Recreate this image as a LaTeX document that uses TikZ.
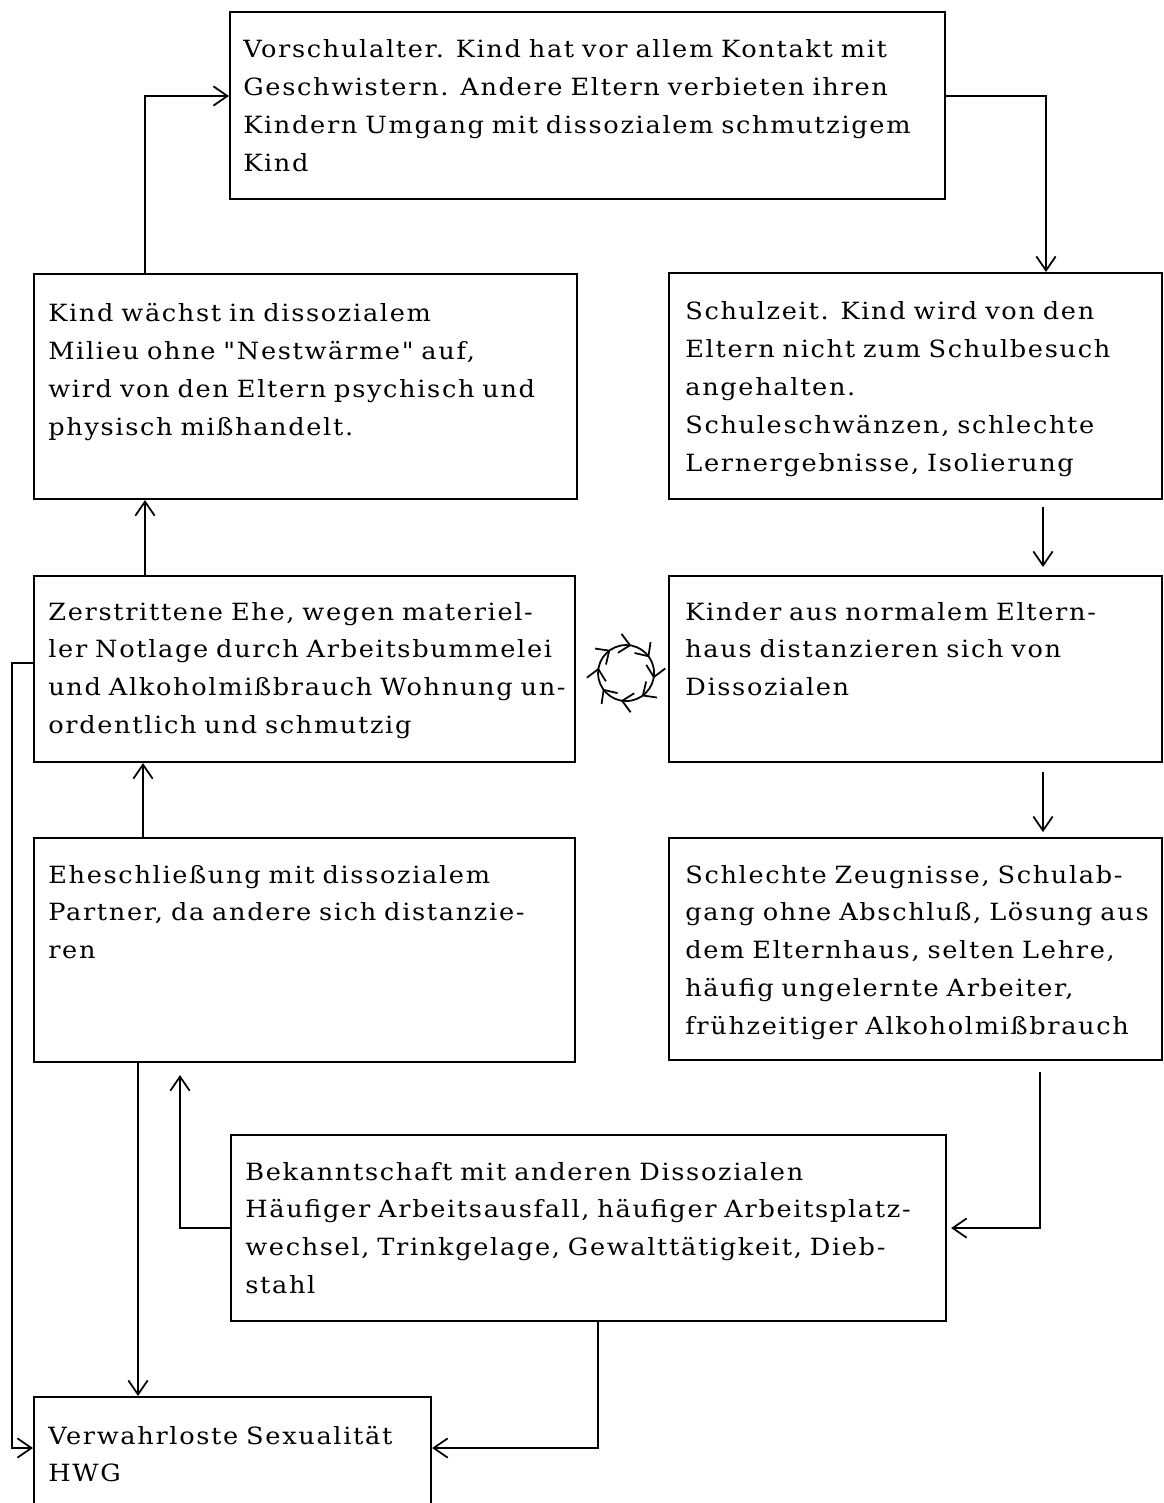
\documentclass[tikz,border=0pt]{standalone}
\usepackage{fontspec}
\setmainfont[Ligatures=TeXOff, LetterSpace=7, WordSpace=1.9, FakeStretch=1.08]{DejaVu Serif}
\usepackage{tikz}
\usetikzlibrary{calc}
\usetikzlibrary{positioning}
\usetikzlibrary{arrows.meta}
\usetikzlibrary{decorations.markings}

\newdimen\pix
\pix=0.02cm

\begin{document}
\begin{tikzpicture}
		[x=0.02cm, y=-0.02cm,
		font=\fontsize{13.5}{21.6}\selectfont,
		>={Straight Barb[length=8pt,width=11pt]}
		]
		
		% Two styles: the frames and the texts in them
		\tikzstyle{box}=[draw,line width=1.2pt,anchor=north west,inner sep=0];
		\tikzstyle{txt}=[anchor=base west,inner sep=0,align=left];
		\tikzstyle{link}=[line width=1pt,->];
		
		\useasboundingbox (0,0) rectangle (1163,1503);
		
		% The frames
		\node[box, minimum width=715\pix, minimum height=187\pix] (vor) at (229,11) {};
		\node[box, minimum width=543\pix, minimum height=225\pix] (kind) at (33,273) {};
		\node[box, minimum width=493\pix, minimum height=226\pix] (schul) at (668,272) {};
		\node[box, minimum width=541\pix, minimum height=186\pix] (zer) at (33,575) {};
		\node[box, minimum width=493\pix, minimum height=186\pix] (kinder) at (668,575) {};
		\node[box, minimum width=541\pix, minimum height=224\pix] (ehe) at (33,837) {};
		\node[box, minimum width=493\pix, minimum height=222\pix] (schlecht) at (668,837) {};
		\node[box, minimum width=715\pix, minimum height=186\pix] (bek) at (230,1134) {};
		\node[box, minimum width=397\pix, minimum height=140\pix] (verw) at (33,1396) {};
		
		% The texts
		\node[txt, text width=700\pix] (vortxt) at ($(vor.north west)+(14,47)$)
		{Vorschulalter. Kind hat vor allem Kontakt mit\\ Geschwistern. Andere Eltern verbieten ihren\\ Kindern Umgang mit dissozialem schmutzigem\\ Kind};
		\node[txt, text width=525\pix] (kindtxt) at ($(kind.north west)+(15,49)$)
		{Kind wächst in dissozialem\\ Milieu ohne "Nestwärme" auf,\\ wird von den Eltern psychisch und\\ physisch mißhandelt.};
		\node[txt, text width=480\pix] (schultxt) at ($(schul.north west)+(17,48)$)
		{Schulzeit. Kind wird von den\\ Eltern nicht zum Schulbesuch\\ angehalten.\\ Schuleschwänzen, schlechte\\ Lernergebnisse, Isolierung};
		\node[txt, text width=525\pix] (zertxt) at ($(zer.north west)+(15,45)$)
		{Zerstrittene Ehe, wegen materiel-\\ ler Notlage durch Arbeitsbummelei\\ und Alkoholmißbrauch Wohnung un-\\ ordentlich und schmutzig};
		\node[txt, text width=480\pix] (kindertxt) at ($(kinder.north west)+(17,45)$)
		{Kinder aus normalem Eltern-\\ haus distanzieren sich von\\ Dissozialen};
		\node[txt, text width=525\pix] (ehetxt) at ($(ehe.north west)+(15,46)$)
		{Eheschließung mit dissozialem\\ Partner, da andere sich distanzie-\\ ren};
		\node[txt, text width=480\pix] (schlechttxt) at ($(schlecht.north west)+(17,46)$)
		{Schlechte Zeugnisse, Schulab-\\ gang ohne Abschluß, Lösung aus\\ dem Elternhaus, selten Lehre,\\ häufig ungelernte Arbeiter,\\ frühzeitiger Alkoholmißbrauch};
		\node[txt, text width=700\pix] (bektxt) at ($(bek.north west)+(15,46)$)
		{Bekanntschaft mit anderen Dissozialen\\ Häufiger Arbeitsausfall, häufiger Arbeitsplatz-\\ wechsel, Trinkgelage, Gewalttätigkeit, Dieb-\\ stahl};
		\node[txt, text width=380\pix] (verwtxt) at ($(verw.north west)+(15,48)$)
		{Verwahrloste Sexualität\\ HWG};
		
		% The arrows round the cycle
		\draw[link] ($(kind.north west)+(112,0)$) |- ($(vor.north west)+(0,85)$);
		\draw[link] ($(vor.north east)+(0,85)$) -| ($(schul.north west)+(378,0)$);
		\draw[link] ($(schul.south west)+(375,7)$) -- ($(kinder.north west)+(375,-8)$);
		\draw[link] ($(kinder.south west)+(375,9)$) -- ($(kinder.south west)+(375,69)$);
		\draw[link] ($(schlecht.south west)+(372,11)$) |- ([xshift=4\pix]bek.east);
		\draw[link] (bek.west) -| ($(ehe.south west)+(147,12)$);
		\draw[link] ($(ehe.north west)+(110,0)$) -- ($(zer.south west)+(110,0)$);
		\draw[link] ($(zer.north west)+(112,0)$) -- ($(kind.south west)+(112,0)$);
		
		% The arrows into the last frame
		\draw[link] ($(ehe.south west)+(105,0)$) -- ($(verw.north west)+(105,0)$);
		\draw[link] ($(bek.south west)+(368,0)$) |- ($(verw.north east)+(0,52)$);
		\draw[link] ($(zer.north west)+(0,88)$) -- ++(-21,0) |- ($(verw.north west)+(0,52)$);
		
		% The little circle of arrows
		\coordinate (cyc) at ($(zer.east)!0.5!(kinder.west)+(4,4)$);
		\draw[line width=1pt, decoration={markings,
			mark=between positions 0.03 and 1 step 0.125 with {\arrow{Straight Barb[length=6pt,width=11pt]}}},
			postaction={decorate}] (cyc) circle[radius=28];
\end{tikzpicture}
\end{document}
